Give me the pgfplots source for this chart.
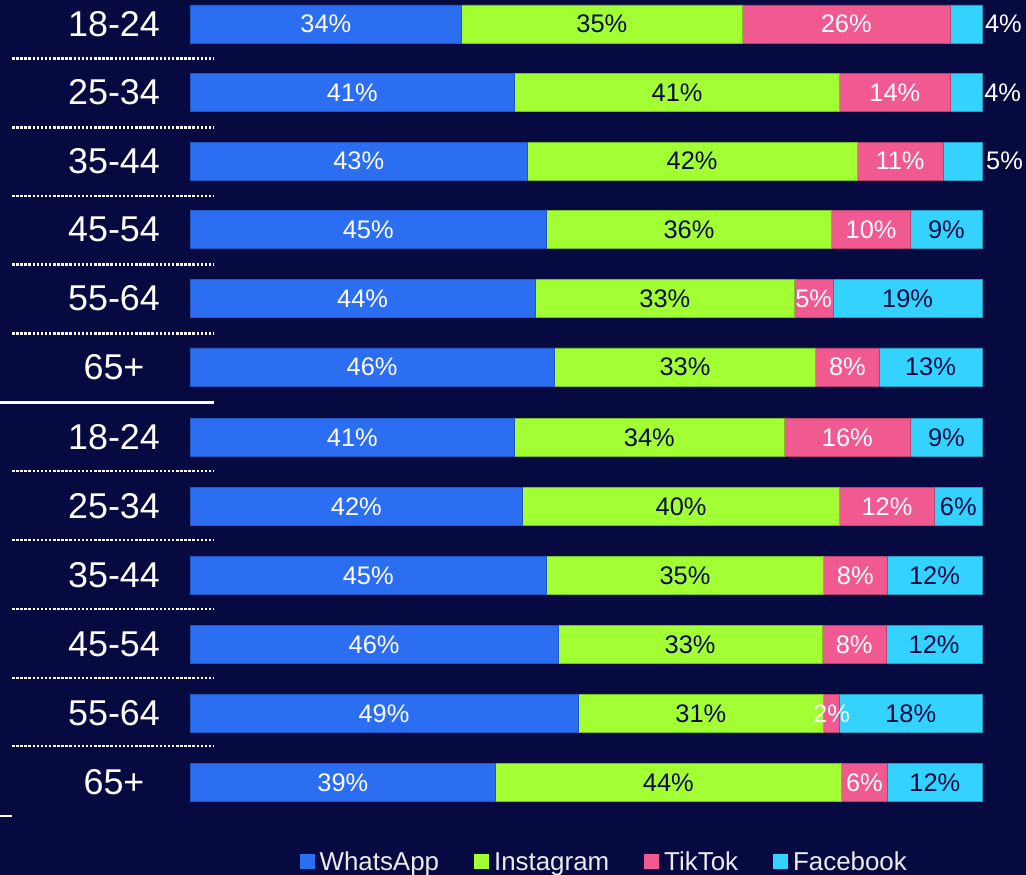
\documentclass[border=0pt]{standalone}
\usepackage{pgfplots}
\pgfplotsset{compat=1.18}
\usepackage{pgfplotstable}
\usepackage{fontspec}
\setmainfont{Liberation Sans}

\definecolor{bgnavy}{RGB}{7,10,64}
\definecolor{cblue}{RGB}{44,110,242}
\definecolor{cgreen}{RGB}{162,255,51}
\definecolor{cpink}{RGB}{240,90,145}
\definecolor{ccyan}{RGB}{51,210,255}

% y = row centre (px from top); w,i,t,f = segment lengths scaled to 100;
% lw..lf = printed shares; fs = label shift for Facebook; fo = 100 if label sits outside
\pgfplotstableread{
y      w     i     t     f     lw lt2 lt  lf fs     fo
24     34.3  35.4  26.3  4.0   34 35  26  4  4.7    100
92.6   41    41    14    4     41 41  14  4  4.6    100
161.2  42.6  41.6  10.9  4.9   43 42  11  5  5.3    100
229.8  45    36    10    9     45 36  10  9  0      0
298.4  43.6  32.7  4.9   18.8  44 33  5   19 0      0
367    46    33    8     13    46 33  8   13 0      0
437.5  41    34    16    9     41 34  16  9  0      0
506.5  42    40    12    6     42 40  12  6  0      0
575.5  45    35    8     12    45 35  8   12 0      0
644.5  46.5  33.3  8.1   12.1  46 33  8   12 0      0
713.5  49    31    2     18    49 31  2   18 0      0
782.5  38.6  43.6  5.9   11.9  39 44  6   12 0      0
}\data

\begin{document}
\begin{tikzpicture}[x=1bp,y=1bp]
\useasboundingbox (0,0) rectangle (1026,875);
\fill[bgnavy] (0,0) rectangle (1026,875);
\begin{axis}[
    at={(190bp,0bp)}, anchor=south west,
    scale only axis,
    width=792bp, height=875bp,
    xbar stacked,
    bar width=38bp,
    xmin=0, xmax=100,
    ymin=0, ymax=875,
    y dir=reverse,
    enlargelimits=false,
    clip=false,
    axis line style={draw=none},
    major tick length=0pt,
    xtick=\empty,
    ytick={24,92.6,161.2,229.8,298.4,367,437.5,506.5,575.5,644.5,713.5,782.5},
    yticklabels={18-24,25-34,35-44,45-54,55-64,65+,18-24,25-34,35-44,45-54,55-64,65+},
    yticklabel style={font=\fontsize{36}{40}\selectfont, text=white, anchor=center, xshift=-76bp},
    point meta=explicit symbolic,
    nodes near coords={\pgfplotspointmeta\%},
    nodes near coords style={font=\fontsize{25.5}{30}\selectfont, anchor=center},
    legend columns=4,
    legend style={at={(0.523,0.0149)}, anchor=center, draw=none, fill=none,
        text=white!92!bgnavy, font=\fontsize{26}{30}\selectfont,
        /tikz/every odd column/.append style={column sep=3bp},
        /tikz/every even column/.append style={column sep=33bp}},
    legend image code/.code={\path[#1,draw=none] (0bp,-7.5bp) rectangle (15bp,7.5bp);},
]
\addplot[fill=cblue, draw=cblue!80!black, line width=0.6bp,
    nodes near coords style={text=white}]
    table[x=w, y=y, meta=lw] {\data};
\addplot[fill=cgreen, draw=cgreen!75!black, line width=0.6bp,
    nodes near coords style={text=bgnavy}]
    table[x=i, y=y, meta=lt2] {\data};
\addplot[fill=cpink, draw=cpink!75!black, line width=0.6bp,
    nodes near coords style={text=white}]
    table[x=t, y=y, meta=lt] {\data};
\addplot[fill=ccyan, draw=ccyan!75!black, line width=0.6bp,
    visualization depends on={\thisrow{fs} \as \seg},
    visualization depends on={\thisrow{fo} \as \fout},
    nodes near coords style={text=white!\fout!bgnavy, shift={(axis direction cs:\seg,0)}}]
    table[x=f, y=y, meta=lf] {\data};
\legend{WhatsApp, Instagram, TikTok, Facebook}
\end{axis}
% separators under the age labels
\foreach \yy in {58.5,127.3,196,264.7,333.4,471,540,609,678,746}
  \draw[white, line width=2.5bp, dash pattern=on 2.5bp off 1.6bp] (12,875-\yy) -- (213,875-\yy);
\draw[white, line width=3.5bp] (0,875-402.7) -- (214,875-402.7);
\draw[white, line width=2bp] (0,875-816) -- (12,875-816);
\end{tikzpicture}
\end{document}
